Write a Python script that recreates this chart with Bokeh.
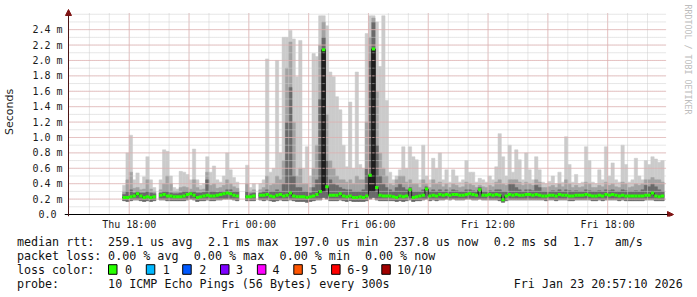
import math
from bokeh.plotting import figure
from bokeh.layouts import column
from bokeh.models import (ColumnDataSource, FixedTicker, LinearAxis, Arrow, NormalHead, Range1d)
from bokeh.core.properties import value
from bokeh.embed import file_html
from bokeh.resources import INLINE

# ---------------- data (hours since Thu 00:00, values in ms) ----------------
X_START = 14 + 57 / 60 + 10 / 3600          # Thu 14:57:10
X_END = X_START + 30                         # Fri 20:57:10
FIRST_BIN = 17 + 40 / 60                     # first bin Thu 17:40
BIN = 1 / 6                                  # 10 minute bins

hi = [0.38, 0.80, 1.03, 0.45, 0.54, 0.40, 0.49, 0.75, 0.45, 0.35,
      None, 0.45, 0.84, 0.82, 0.50, 0.35, 0.33, 0.56, 0.55, 0.52,
      0.45, 0.85, 0.45, 0.38, 0.40, 0.75, 0.55, 0.63, 0.45, 0.42,
      0.50, 0.80, 0.58, 0.48, 0.42, None, None, 0.64, 0.35, 0.40,
      None, 0.40, 0.45, 2.02, 0.55, 0.60, 2.00, 0.80, 2.30, 2.30,
      2.39, 2.28, 1.79, 2.26, 0.60, 0.88, 0.50, 2.09, 2.05, 2.58,
      2.58, 2.45, 1.85, 1.79, 1.53, 1.36, 0.90, 0.62, 1.46, 0.60,
      1.85, 0.65, 0.60, 2.35, 2.58, 2.58, 2.50, 1.92, 2.58, 1.48,
      0.55, 0.45, 0.50, 0.58, 0.88, 0.60, 0.88, 0.75, 0.71, 0.45,
      0.90, 0.50, 0.45, 0.73, 0.60, 0.80, 0.45, 0.58, 0.42, 0.58,
      0.50, 0.42, 0.45, 0.70, 0.55, 0.55, 0.42, 0.47, 0.45, 0.42,
      0.50, 0.45, 0.62, 1.05, 0.75, 0.50, 0.90, 0.55, 0.84, 0.71,
      0.45, 0.80, 0.58, 0.45, 0.75, 0.58, 0.42, 0.40, 0.43, 0.50,
      0.40, 0.55, 0.42, 1.01, 0.65, 0.42, 0.52, 0.40, 0.42, 0.88,
      0.70, 0.42, 0.40, 0.58, 0.45, 0.88, 0.50, 0.67, 0.45, 0.42,
      0.90, 0.65, 0.42, 0.45, 0.73, 0.50, 0.45, 0.70, 0.65, 0.75,
      0.72, 0.68, 0.70]

mid = [0.30, 0.45, 0.55, 0.34, 0.35, 0.32, 0.33, 0.45, 0.33, 0.30,
       None, 0.32, 0.40, 0.50, 0.40, 0.30, 0.30, 0.35, 0.36, 0.35,
       0.33, 0.45, 0.35, 0.32, 0.33, 0.55, 0.38, 0.40, 0.34, 0.35,
       0.38, 0.45, 0.40, 0.36, 0.34, None, None, 0.40, 0.30, 0.32,
       None, 0.32, 0.35, 0.50, 0.38, 0.40, 0.50, 0.45, 0.70, 1.90,
       2.24, 1.20, 0.50, 0.60, 0.40, 0.40, 0.35, 0.60, 0.90, 2.20,
       2.50, 1.30, 0.70, 0.60, 0.50, 0.45, 0.45, 0.42, 0.45, 0.40,
       0.50, 0.45, 0.45, 1.20, 2.30, 2.55, 1.60, 0.80, 0.60, 0.50,
       0.40, 0.38, 0.45, 0.50, 0.50, 0.42, 0.45, 0.40, 0.40, 0.35,
       0.45, 0.40, 0.35, 0.45, 0.40, 0.42, 0.36, 0.40, 0.35, 0.40,
       0.38, 0.35, 0.36, 0.42, 0.40, 0.38, 0.35, 0.38, 0.36, 0.35,
       0.38, 0.36, 0.42, 0.45, 0.40, 0.38, 0.45, 0.45, 0.45, 0.42,
       0.38, 0.42, 0.40, 0.38, 0.45, 0.42, 0.35, 0.35, 0.36, 0.38,
       0.35, 0.40, 0.36, 0.45, 0.40, 0.35, 0.38, 0.35, 0.36, 0.42,
       0.40, 0.35, 0.35, 0.38, 0.36, 0.42, 0.38, 0.40, 0.36, 0.35,
       0.42, 0.40, 0.35, 0.36, 0.40, 0.38, 0.40, 0.45, 0.45, 0.48,
       0.45, 0.45, 0.42]

dark = [0.26, 0.30, 0.32, 0.28, 0.30, 0.28, 0.28, 0.30, 0.28, 0.27,
        None, 0.28, 0.30, 0.30, 0.28, 0.27, 0.27, 0.28, 0.30, 0.30,
        0.30, 0.30, 0.28, 0.28, 0.29, 0.45, 0.30, 0.30, 0.29, 0.30,
        0.30, 0.32, 0.32, 0.30, 0.30, None, None, 0.30, 0.27, 0.28,
        None, 0.28, 0.30, 0.32, 0.30, 0.30, 0.32, 0.30, 0.40, 1.20,
        1.65, 0.50, 0.35, 0.35, 0.30, 0.30, 0.28, 0.35, 0.45, 1.50,
        2.30, 0.70, 0.45, 0.40, 0.38, 0.35, 0.33, 0.32, 0.32, 0.30,
        0.30, 0.30, 0.32, 0.60, 2.00, 2.50, 0.90, 0.50, 0.40, 0.35,
        0.32, 0.30, 0.35, 0.40, 0.35, 0.32, 0.35, 0.30, 0.30, 0.30,
        0.32, 0.36, 0.30, 0.32, 0.30, 0.32, 0.30, 0.32, 0.30, 0.32,
        0.31, 0.30, 0.30, 0.32, 0.32, 0.31, 0.30, 0.35, 0.30, 0.30,
        0.31, 0.30, 0.32, 0.32, 0.30, 0.30, 0.40, 0.40, 0.35, 0.32,
        0.30, 0.32, 0.32, 0.31, 0.38, 0.35, 0.30, 0.30, 0.30, 0.31,
        0.30, 0.32, 0.30, 0.32, 0.31, 0.30, 0.31, 0.30, 0.30, 0.32,
        0.31, 0.30, 0.30, 0.31, 0.30, 0.32, 0.31, 0.32, 0.30, 0.30,
        0.32, 0.31, 0.30, 0.30, 0.31, 0.30, 0.32, 0.38, 0.36, 0.40,
        0.36, 0.32, 0.30]

med = [0.22, 0.22, 0.23, 0.24, 0.27, 0.24, 0.22, 0.23, 0.22, 0.23,
       None, 0.25, 0.26, 0.24, 0.24, 0.23, 0.23, 0.23, 0.24, 0.26,
       0.27, 0.25, 0.22, 0.23, 0.24, 0.25, 0.24, 0.24, 0.25, 0.26,
       0.27, 0.28, 0.27, 0.25, 0.24, None, None, 0.23, 0.23, 0.24,
       None, 0.25, 0.25, 0.26, 0.24, 0.23, 0.25, 0.26, 0.24, 0.25,
       0.28, 0.24, 0.23, 0.23, 0.23, 0.22, 0.23, 0.24, 0.26, 0.30,
       2.14, 0.36, 0.25, 0.25, 0.25, 0.27, 0.24, 0.23, 0.24, 0.22,
       0.22, 0.23, 0.22, 0.24, 0.51, 2.15, 0.35, 0.25, 0.24, 0.24,
       0.24, 0.23, 0.22, 0.24, 0.23, 0.24, 0.32, 0.22, 0.23, 0.24,
       0.25, 0.33, 0.24, 0.25, 0.24, 0.26, 0.25, 0.26, 0.25, 0.26,
       0.26, 0.25, 0.25, 0.26, 0.27, 0.26, 0.25, 0.32, 0.25, 0.25,
       0.26, 0.25, 0.26, 0.25, 0.19, 0.24, 0.26, 0.25, 0.26, 0.25,
       0.25, 0.26, 0.26, 0.25, 0.26, 0.25, 0.24, 0.24, 0.25, 0.25,
       0.24, 0.26, 0.25, 0.25, 0.24, 0.24, 0.25, 0.25, 0.25, 0.26,
       0.25, 0.24, 0.24, 0.25, 0.24, 0.26, 0.25, 0.26, 0.25, 0.24,
       0.25, 0.24, 0.24, 0.24, 0.24, 0.24, 0.24, 0.25, 0.25, 0.28,
       0.24, 0.23, 0.24]

lo = [0.18, 0.17, 0.18, 0.19, 0.19, 0.18, 0.17, 0.18, 0.17, 0.18,
      None, 0.19, 0.19, 0.18, 0.18, 0.18, 0.18, 0.18, 0.18, 0.19,
      0.20, 0.19, 0.17, 0.18, 0.18, 0.19, 0.18, 0.18, 0.19, 0.19,
      0.20, 0.20, 0.20, 0.19, 0.18, None, None, 0.18, 0.18, 0.18,
      None, 0.19, 0.18, 0.19, 0.18, 0.17, 0.18, 0.19, 0.18, 0.18,
      0.19, 0.18, 0.17, 0.17, 0.17, 0.16, 0.17, 0.18, 0.19, 0.19,
      0.22, 0.20, 0.18, 0.18, 0.18, 0.19, 0.18, 0.17, 0.18, 0.17,
      0.17, 0.17, 0.17, 0.18, 0.20, 0.22, 0.19, 0.18, 0.18, 0.18,
      0.18, 0.18, 0.17, 0.18, 0.17, 0.18, 0.19, 0.17, 0.18, 0.18,
      0.19, 0.20, 0.18, 0.19, 0.18, 0.19, 0.19, 0.20, 0.19, 0.20,
      0.19, 0.19, 0.19, 0.20, 0.20, 0.19, 0.19, 0.20, 0.19, 0.19,
      0.19, 0.19, 0.19, 0.18, 0.16, 0.18, 0.19, 0.19, 0.19, 0.19,
      0.19, 0.19, 0.19, 0.19, 0.19, 0.19, 0.19, 0.18, 0.19, 0.19,
      0.18, 0.19, 0.19, 0.19, 0.18, 0.18, 0.19, 0.19, 0.19, 0.19,
      0.19, 0.18, 0.18, 0.19, 0.18, 0.19, 0.19, 0.19, 0.19, 0.18,
      0.19, 0.18, 0.18, 0.18, 0.18, 0.18, 0.18, 0.19, 0.19, 0.19,
      0.18, 0.18, 0.18]

# darkest smoke core for the three big spikes
core_bins = [60, 74, 75]
core_top = [2.14, 0.51, 2.15]
core_bottom = [0.30, 0.30, 0.30]

x_tick_hours = [18, 24, 30, 36, 42]
x_tick_labels = ["Thu 18:00", "Fri 00:00", "Fri 06:00", "Fri 12:00", "Fri 18:00"]
y_tick_values = [0.0, 0.2, 0.4, 0.6, 0.8, 1.0, 1.2, 1.4, 1.6, 1.8, 2.0, 2.2, 2.4]
y_tick_labels = ["0.0\u00a0", "0.2 m", "0.4 m", "0.6 m", "0.8 m", "1.0 m", "1.2 m",
                 "1.4 m", "1.6 m", "1.8 m", "2.0 m", "2.2 m", "2.4 m"]

rtt_stats = ["median rtt:", "259.1 us avg", "2.1 ms max", "197.0 us min",
             "237.8 us now", "0.2 ms sd", "1.7", "am/s"]
loss_stats = ["packet loss:", "0.00 % avg", "0.00 % max", "0.00 % min", "0.00 % now"]
loss_labels = ["0", "1", "2", "3", "4", "5", "6-9", "10/10"]
loss_colors = ["#26ff00", "#00b8ff", "#0059ff", "#7e00ff", "#ff00ff", "#ff5500", "#ff0000", "#a10000"]
probe_text = ["probe:", "10 ICMP Echo Pings (56 Bytes) every 300s", "Fri Jan 23 20:57:10 2026"]

# ---------------- layout / style ----------------
W = 697
H1, H2 = 232, 65
AX_X, AX_Y = 66, 215             # pixel of the origin (axis crossing)
PLOT_TOP = 13                    # pixel of the top of the graph area
FL, FR, FT, FB = 62, 676, 7, 217  # frame edges (a little larger than graph area)
PX_PER_H = 20.0
Y_TOP = 2.61
PX_PER_MS = (AX_Y - PLOT_TOP) / Y_TOP


def dx(px):
    return X_START + (px - AX_X) / PX_PER_H


def dy(py):
    return (AX_Y - py) / PX_PER_MS


LIGHT, MIDC, DARKC, CORE = "#cbcbcb", "#a3a3a3", "#6a6a6a", "#202020"
GREEN = "#26ff00"
ARROW = "#7f1414"
GRID_MINOR, GRID_MAJOR = "#cdcdcd", "#e6a0a0"
MONO = "DejaVu Sans Mono"

p = figure(width=W, height=H1, x_range=Range1d(dx(FL), dx(FR)), y_range=Range1d(dy(FB), dy(FT)),
           output_backend="svg", toolbar_location=None,
           min_border_left=FL, min_border_right=W - FR,
           min_border_top=FT, min_border_bottom=H1 - FB)
p.frame_align = False
p.outline_line_color = None
p.background_fill_color = "white"
p.border_fill_color = "white"
p.xgrid.visible = False
p.ygrid.visible = False

# ---------------- smoke ----------------
idx = [i for i in range(len(med)) if med[i] is not None]
left = [FIRST_BIN + i * BIN for i in idx]
src = ColumnDataSource(dict(
    left=left, right=[v + BIN for v in left],
    lo=[lo[i] for i in idx], hi=[hi[i] for i in idx], mid=[mid[i] for i in idx],
    dark=[dark[i] for i in idx], med=[med[i] for i in idx]))

for top, color in (("hi", LIGHT), ("mid", MIDC), ("dark", DARKC)):
    p.quad(left="left", right="right", bottom="lo", top=top, source=src,
           fill_color=color, line_color=color, line_width=0.5)

core_left = [FIRST_BIN + i * BIN for i in core_bins]
p.quad(left=core_left, right=[v + BIN for v in core_left], bottom=core_bottom, top=core_top,
       fill_color=CORE, line_color=CORE, line_width=0.5)

# ---------------- grid (drawn over the smoke, like rrdtool) ----------------
hour_lines = list(range(16, 45))
major_hours = list(range(18, 45, 3))
minor_y = [round(0.1 * k, 1) for k in range(1, 27)]
major_y = [round(0.2 * k, 1) for k in range(1, 13)]
for hours, color in ((hour_lines, GRID_MINOR), (major_hours, GRID_MAJOR)):
    p.segment(x0=hours, x1=hours, y0=[0] * len(hours), y1=[Y_TOP] * len(hours),
              line_color=color, line_width=1, line_dash="1 1")
for ys, color in ((minor_y, GRID_MINOR), (major_y, GRID_MAJOR)):
    p.segment(x0=[X_START] * len(ys), x1=[X_END] * len(ys), y0=ys, y1=ys,
              line_color=color, line_width=1, line_dash="1 1")

# ---------------- median ----------------
n = len(med)
step_x = [FIRST_BIN + i * BIN for i in range(n + 1)]
step_y = [m if m is not None else float("nan") for m in med] + [med[-1]]
p.step(step_x, step_y, mode="after", line_color="#1a1a1a", line_width=1)
p.segment(x0="left", x1="right", y0="med", y1="med", source=src,
          line_color=GREEN, line_width=3, line_cap="butt")

# ---------------- axes ----------------
xa = p.xaxis[0]
xa.ticker = FixedTicker(ticks=x_tick_hours, minor_ticks=[])
xa.major_label_overrides = {float(h): t for h, t in zip(x_tick_hours, x_tick_labels)}
ya = p.yaxis[0]
ya.ticker = FixedTicker(ticks=y_tick_values, minor_ticks=[])
ya.major_label_overrides = {float(v): t for v, t in zip(y_tick_values, y_tick_labels)}
for ax, standoff in ((xa, 2), (ya, 2)):
    ax.axis_line_color = None
    ax.major_tick_line_color = None
    ax.minor_tick_line_color = None
    ax.major_tick_out = 0
    ax.major_tick_in = 0
    ax.major_label_standoff = standoff
    ax.major_label_text_font = MONO
    ax.major_label_text_font_size = "10px"
    ax.major_label_text_color = "#1a1a1a"
ya.axis_label = "Seconds"
ya.axis_label_text_font = "DejaVu Sans"
ya.axis_label_text_font_size = "11px"
ya.axis_label_text_font_style = "normal"
ya.axis_label_text_color = "#222222"
ya.axis_label_standoff = 13

ra = LinearAxis(ticker=FixedTicker(ticks=[], minor_ticks=[]),
                axis_label="RRDTOOL / TOBI OETIKER" + "\u00a0" * 21)
ra.axis_line_color = None
ra.major_tick_line_color = None
ra.minor_tick_line_color = None
ra.major_tick_out = 0
ra.major_label_standoff = 0
ra.axis_label_standoff = 6
ra.axis_label_text_font = MONO
ra.axis_label_text_font_size = "8.3px"
ra.axis_label_text_font_style = "normal"
ra.axis_label_text_color = "#bdbdbd"
p.add_layout(ra, "right")

p.add_layout(Arrow(end=NormalHead(size=6, fill_color=ARROW, line_color=ARROW, line_width=1),
                   x_start=dx(FL), y_start=0, x_end=dx(673), y_end=0,
                   line_color="black", line_width=1))
p.add_layout(Arrow(end=NormalHead(size=6, fill_color=ARROW, line_color=ARROW, line_width=1),
                   x_start=X_START, y_start=dy(FB), x_end=X_START, y_end=dy(9),
                   line_color="#4a1414", line_width=1))

# ---------------- legend block (second figure, pixel coordinates) ----------------
q = figure(width=W, height=H2, x_range=Range1d(0, W), y_range=Range1d(H2, 0),
           output_backend="svg", toolbar_location=None, x_axis_type=None, y_axis_type=None,
           min_border_left=0, min_border_right=0, min_border_top=0, min_border_bottom=0)
q.frame_align = False
q.outline_line_color = None
q.background_fill_color = "white"
q.border_fill_color = "white"

Y0 = H1
row_y = [241 - Y0, 255.3 - Y0, 269 - Y0, 283.5 - Y0]
tx, ty, tt = [], [], []


def row(texts, xs, yy):
    for t, x in zip(texts, xs):
        tx.append(x)
        ty.append(yy)
        tt.append(t)


row(rtt_stats, [16.4, 107.6, 207.6, 293.3, 393.3, 493.3, 572.4, 614.2], row_y[0])
row(loss_stats, [16.4, 107.6, 193.3, 279.1, 364.4], row_y[1])
row(["loss color:"], [16.4], row_y[2])
box_left = [108, 145.8, 182.2, 220, 256.9, 293.3, 331.1, 381.3]
label_left = [124.4, 162.2, 198.7, 235.6, 272, 309.8, 346.7, 396.4]
row(loss_labels, label_left, row_y[2])
row(probe_text, [16.4, 107.6, 513.3], row_y[3])

q.text(x=tx, y=ty, text=tt, text_font=value(MONO), text_font_size=value("11.7px"),
       text_color="#111111", text_align="left", text_baseline="middle")
q.quad(left=box_left, right=[b + 8.5 for b in box_left],
       top=[264.2 - Y0] * len(box_left), bottom=[273.8 - Y0] * len(box_left),
       fill_color=loss_colors, line_color="black", line_width=1)

layout = column(p, q, spacing=0)
open("out.html", "w").write(file_html(layout, INLINE))
